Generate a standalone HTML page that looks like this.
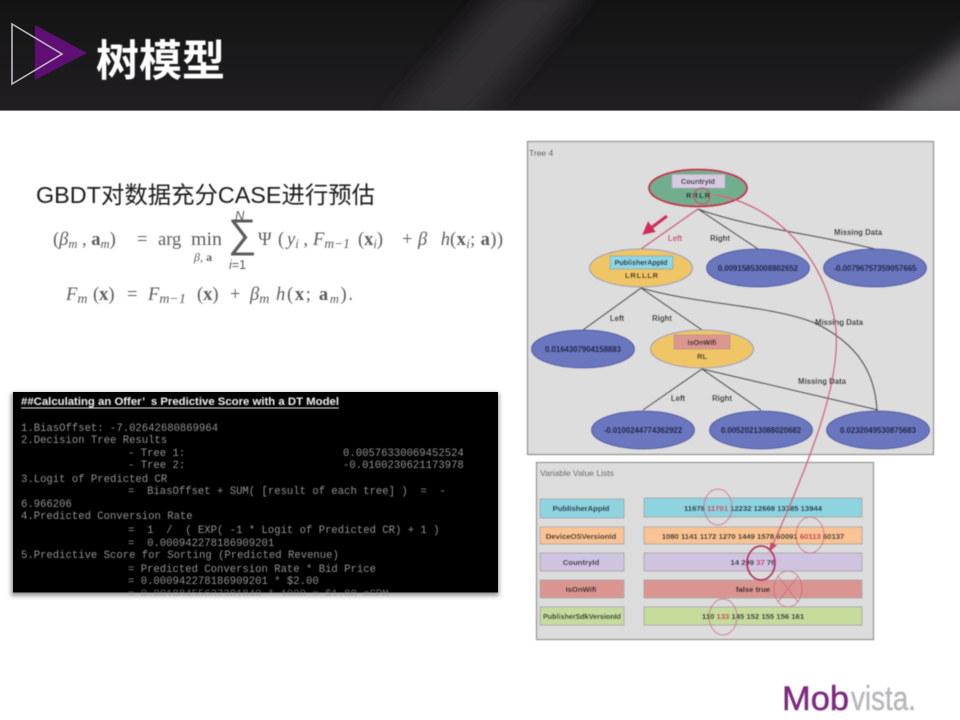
<!DOCTYPE html>
<html lang="zh">
<head>
<meta charset="utf-8">
<title>树模型</title>
<style>
html,body{margin:0;padding:0;background:#fff}
svg{display:block}
text{font-family:"Liberation Sans","Noto Sans CJK SC",sans-serif;white-space:pre}
.m{font-family:"Liberation Mono",monospace;font-size:10.6px;fill:#929292}
.f{font-family:"Liberation Serif",serif;font-size:18.5px;fill:#5c5c5c}
.i{font-style:italic}
.b{font-weight:bold}
.sb{font-size:12.5px}
.lab{font-size:7.8px;fill:#111;text-anchor:middle;font-weight:bold}
.leaf{fill:#6a76bd;stroke:#4b5aa5;stroke-width:1}
.leaft{font-size:7.8px;fill:#0c1030;text-anchor:middle;font-weight:bold}
.inner{font-size:7.2px;fill:#111;text-anchor:middle;font-weight:bold}
.code{font-size:7.4px;fill:#111;text-anchor:middle;font-weight:bold}
.lv{font-size:7.7px;fill:#0e1420;text-anchor:middle;font-weight:bold}
.edge{stroke:#505050;stroke-width:1.3;fill:none}
.pk{stroke:#d0607f;fill:none}
</style>
</head>
<body>
<svg width="960" height="720" viewBox="0 0 960 720" xmlns="http://www.w3.org/2000/svg">
<defs>
<linearGradient id="hd" x1="0" y1="0" x2="0" y2="1">
<stop offset="0" stop-color="#131314"/><stop offset="1" stop-color="#201e20"/>
</linearGradient>
<filter id="wide" filterUnits="userSpaceOnUse" x="300" y="-60" width="760" height="240"><feGaussianBlur stdDeviation="12"/></filter>
<filter id="s" x="-5%" y="-5%" width="110%" height="110%"><feGaussianBlur stdDeviation="0.6"/></filter>
<filter id="s2" x="-5%" y="-5%" width="110%" height="110%"><feGaussianBlur stdDeviation="0.4"/></filter>
<filter id="sh" x="-5%" y="-5%" width="110%" height="110%"><feGaussianBlur stdDeviation="2"/></filter>
<clipPath id="codeclip"><rect x="13" y="392" width="485" height="204"/></clipPath>
<clipPath id="hclip"><rect width="960" height="110"/></clipPath>
</defs>

<rect width="960" height="720" fill="#fff"/>

<!-- header -->
<rect width="960" height="110" fill="url(#hd)"/>
<g clip-path="url(#hclip)" filter="url(#wide)">
<polygon points="385,125 470,125 590,-15 505,-15" fill="#322f32"/>
<polygon points="868,125 985,125 985,30" fill="#605e63"/>
</g>
<rect y="110" width="960" height="1" fill="#777"/>
<polygon points="35,25 87,53 35,80" fill="#5f0f73"/>
<polygon points="12,24 62,54 12,84" fill="none" stroke="#c4b8c4" stroke-width="1.6"/>
<text x="96" y="76" font-size="43" font-weight="bold" fill="#fff" filter="url(#s2)">树模型</text>

<!-- heading and formulas -->
<g filter="url(#s2)">
<text x="36" y="203" font-size="23.5" fill="#1a1a1a" textLength="339" lengthAdjust="spacingAndGlyphs">GBDT对数据充分CASE进行预估</text>
</g>
<g filter="url(#s)">
<text class="f" x="53" y="245">(<tspan class="i">β</tspan><tspan class="i sb" dy="3">m</tspan><tspan dy="-3"> , </tspan><tspan class="b">a</tspan><tspan class="i sb" dy="3">m</tspan><tspan dy="-3">)</tspan></text>
<text class="f" x="137" y="245">=</text>
<text class="f" x="158" y="245">arg</text>
<text class="f" x="191" y="245" textLength="31" lengthAdjust="spacingAndGlyphs">min</text>
<text class="f sb" x="194" y="261" style="font-size:12px"><tspan class="i">β</tspan>, <tspan class="b">a</tspan></text>
<text x="235" y="220" font-family="Liberation Serif" font-style="italic" font-size="13" fill="#5c5c5c">N</text>
<text x="228" y="247" font-family="DejaVu Serif,serif" font-size="40" fill="#5c5c5c">∑</text>
<text x="229" y="269" font-family="Liberation Serif" font-size="12.5" fill="#5c5c5c"><tspan font-style="italic">i</tspan>=1</text>
<text class="f" x="258" y="245">Ψ</text>
<text class="f" x="278" y="245">(</text>
<text class="f" x="287" y="245"><tspan class="i">y</tspan><tspan class="i sb" dy="3">i</tspan><tspan dy="-3"> ,</tspan></text>
<text class="f" x="313" y="245"><tspan class="i">F</tspan><tspan class="i sb" dy="3" style="font-size:13.5px">m−1</tspan></text>
<text class="f" x="358" y="245">(<tspan class="b">x</tspan><tspan class="i sb" dy="3">i</tspan><tspan dy="-3">)</tspan></text>
<text class="f" x="402" y="245">+</text>
<text class="f i" x="418" y="245" textLength="32">βh</text>
<text class="f" x="450" y="245" textLength="53">(<tspan class="b">x</tspan><tspan class="i sb" dy="3">i</tspan><tspan dy="-3">; </tspan><tspan class="b">a</tspan>))</text>

<text class="f" x="66" y="300"><tspan class="i">F</tspan><tspan class="i sb" dy="3" style="font-size:14px">m</tspan></text>
<text class="f" x="93" y="300">(<tspan class="b">x</tspan>)</text>
<text class="f" x="127" y="300">=</text>
<text class="f" x="148" y="300"><tspan class="i">F</tspan><tspan class="i sb" dy="3" style="font-size:14px">m−1</tspan></text>
<text class="f" x="197" y="300">(<tspan class="b">x</tspan>)</text>
<text class="f" x="230" y="300">+</text>
<text class="f" x="250" y="300"><tspan class="i">β</tspan><tspan class="i sb" dy="3" style="font-size:14px">m</tspan></text>
<text class="f i" x="276" y="300">h</text>
<text class="f" x="287" y="300" textLength="66">(<tspan class="b">x</tspan>; <tspan class="b">a</tspan><tspan class="i sb" dy="3">m</tspan><tspan dy="-3">).</tspan></text>
</g>

<!-- code panel -->
<rect x="11" y="393" width="488" height="203" fill="#999" filter="url(#sh)"/>
<rect x="13" y="392" width="485" height="200.5" fill="#000"/>
<g clip-path="url(#codeclip)" filter="url(#s)">
<text x="21" y="405" font-size="11" font-weight="bold" fill="#f2f2f2" textLength="318" lengthAdjust="spacingAndGlyphs">##Calculating an Offer’  s Predictive Score with a DT Model</text>
<rect x="21" y="407.5" width="318" height="1" fill="#eee"/>
<text class="m" x="21" y="431">1.BiasOffset: -7.02642680869964</text>
<text class="m" x="21" y="443">2.Decision Tree Results</text>
<text class="m" x="128" y="456">- Tree 1:</text><text class="m" x="343" y="456">0.00576330069452524</text>
<text class="m" x="128" y="468">- Tree 2:</text><text class="m" x="343" y="468">-0.0100230621173978</text>
<text class="m" x="21" y="482">3.Logit of Predicted CR</text>
<text class="m" x="128" y="494">=  BiasOffset + SUM( [result of each tree] )  =  -</text>
<text class="m" x="21" y="507">6.966206</text>
<text class="m" x="21" y="519">4.Predicted Conversion Rate</text>
<text class="m" x="128" y="533">=  1  /  ( EXP( -1 * Logit of Predicted CR) + 1 )</text>
<text class="m" x="128" y="546">=  0.000942278186909201</text>
<text class="m" x="21" y="558">5.Predictive Score for Sorting (Predicted Revenue)</text>
<text class="m" x="128" y="572">= Predicted Conversion Rate * Bid Price</text>
<text class="m" x="128" y="584">= 0.000942278186909201 * $2.00</text>
<text class="m" x="128" y="597" opacity=".7">= 0.00188455637381840 * 1000 = $1.88 eCPM</text>
</g>

<!-- tree panel -->
<g filter="url(#s)">
<rect x="527.5" y="141.5" width="406" height="313" fill="#dddddd" stroke="#8e8e8e" stroke-width="1.2"/>
<text x="529" y="156" font-size="8.5" fill="#444">Tree 4</text>

<path class="pk" stroke-width="1.4" d="M698,209 L641,249"/>
<path class="edge" d="M698,209 L758,249"/>
<path class="edge" d="M698,209 C750,228 820,235 875,249"/>
<path class="edge" d="M641,288 L583,330"/>
<path class="edge" d="M641,288 L702,330"/>
<path class="edge" d="M641,288 C700,305 770,305 815,323 C860,345 875,375 877,410"/>
<path class="edge" d="M702,369 L643,410"/>
<path class="edge" d="M702,369 L761,410"/>
<path class="edge" d="M702,369 L878,410"/>

<ellipse cx="698" cy="188" rx="49" ry="18.5" fill="#6fae8e" stroke="#c4274f" stroke-width="2"/>
<rect x="672" y="174.5" width="53" height="13.5" fill="#d7cbe4" stroke="#aaa" stroke-width=".5"/>
<text class="inner" x="698" y="184">CountryId</text>
<text class="code" x="698" y="198" textLength="24">R R L R</text>
<circle cx="702" cy="196" r="8" fill="none" stroke="#c8476d" stroke-width="1.2"/>

<ellipse cx="641" cy="268" rx="51.5" ry="19" fill="#f0c565" stroke="#8f9bb5" stroke-width="1"/>
<rect x="610" y="256" width="63" height="13" fill="#8fd5e3" stroke="#6c9aa8" stroke-width=".6"/>
<text class="inner" x="641" y="265">PublisherAppId</text>
<text class="code" x="641.5" y="278" textLength="33">L R L L L R</text>

<ellipse class="leaf" cx="758" cy="268" rx="51.5" ry="19"/>
<text class="leaft" x="758" y="271">0.00915853008802652</text>
<ellipse class="leaf" cx="875" cy="268" rx="51.5" ry="19"/>
<text class="leaft" x="875" y="271">-0.00796757359057665</text>
<ellipse class="leaf" cx="583" cy="349" rx="51.5" ry="19"/>
<text class="leaft" x="583" y="352">0.0164307904158883</text>

<ellipse cx="702" cy="349" rx="51.5" ry="19" fill="#f0c565" stroke="#8f9bb5" stroke-width="1"/>
<rect x="674" y="335" width="56" height="14" fill="#db9690" stroke="#aa8a88" stroke-width=".6"/>
<text class="inner" x="702" y="345">IsOnWifi</text>
<text class="code" x="702" y="359" textLength="10">R L</text>

<ellipse class="leaf" cx="643" cy="430" rx="51.5" ry="19"/>
<text class="leaft" x="643" y="433">-0.0100244774362922</text>
<ellipse class="leaf" cx="761" cy="430" rx="51.5" ry="19"/>
<text class="leaft" x="761" y="433">0.00520213088020682</text>
<ellipse class="leaf" cx="878" cy="430" rx="51.5" ry="19"/>
<text class="leaft" x="878" y="433">0.0232049530875683</text>

<text class="lab" x="675" y="241" style="fill:#c8476d">Left</text>
<text class="lab" x="720" y="241">Right</text>
<text class="lab" x="858" y="235">Missing Data</text>
<text class="lab" x="617" y="321">Left</text>
<text class="lab" x="662" y="321">Right</text>
<text class="lab" x="839" y="325">Missing Data</text>
<text class="lab" x="678" y="401">Left</text>
<text class="lab" x="722" y="401">Right</text>
<text class="lab" x="822" y="384">Missing Data</text>

<!-- value panel -->
<rect x="536.5" y="462.5" width="337" height="177" fill="#dcdcdc" stroke="#909090" stroke-width="1.2"/>
<text x="540" y="476" font-size="8.5" fill="#555">Variable Value Lists</text>

<g stroke="#a8a8a8" stroke-width="1">
<rect x="540" y="499" width="84" height="19" fill="#8dd3e0"/>
<rect x="644" y="498" width="218" height="19" fill="#8dd3e0"/>
<rect x="540" y="527" width="84" height="17" fill="#f9c393"/>
<rect x="644" y="527" width="218" height="17" fill="#f9c393"/>
<rect x="540" y="553" width="84" height="18" fill="#cfc3e0"/>
<rect x="644" y="553" width="218" height="18" fill="#cfc3e0"/>
<rect x="540" y="580" width="84" height="18" fill="#da9590"/>
<rect x="644" y="580" width="218" height="18" fill="#da9590"/>
<rect x="540" y="607" width="84" height="18" fill="#c5dc9d"/>
<rect x="644" y="607" width="218" height="18" fill="#c5dc9d"/>
</g>
<text class="lv" x="581" y="511">PublisherAppId</text>
<text class="lv" x="581" y="539">DeviceOSVersionId</text>
<text class="lv" x="581" y="565">CountryId</text>
<text class="lv" x="581" y="592">IsOnWifi</text>
<text class="lv" x="582" y="619" textLength="78" lengthAdjust="spacingAndGlyphs">PublisherSdkVersionId</text>

<text class="lv" x="753" y="511">11678 <tspan fill="#c4274f">11701</tspan> 12232 12668 13385 13944</text>
<text class="lv" x="753" y="539">1080 1141 1172 1270 1449 1578 60091 <tspan fill="#c4274f">60113</tspan> 60137</text>
<text class="lv" x="753" y="565">14 299 <tspan fill="#c4274f">37</tspan> 76</text>
<text class="lv" x="753" y="592">false true</text>
<text class="lv" x="753" y="619">110 <tspan fill="#c4274f">133</tspan> 145 152 155 156 161</text>

<!-- annotations -->
<ellipse class="pk" cx="718" cy="507" rx="14" ry="18" stroke-width="1" opacity=".8"/>
<ellipse class="pk" cx="810" cy="535" rx="14" ry="18" stroke-width="1" opacity=".8"/>
<ellipse cx="761" cy="563" rx="14" ry="17" fill="none" stroke="#b72e63" stroke-width="2"/>
<ellipse class="pk" cx="788" cy="589" rx="14" ry="18" stroke-width="1" opacity=".8"/>
<path class="pk" stroke-width="1" opacity=".8" d="M778,576 L798,602 M798,576 L778,602"/>
<ellipse class="pk" cx="723" cy="617" rx="14" ry="18" stroke-width="1" opacity=".8"/>

<path class="pk" stroke-width="1.4" d="M716,195 C785,207 830,270 836,330 C840,380 815,450 773,544"/>
<polygon points="769,552 770.5,542 777,545.5" fill="#c8476d"/>
<path d="M667,216 L651,228" stroke="#d22a5a" stroke-width="3.5" fill="none"/>
<polygon points="642,235 656,232 648,221" fill="#d22a5a"/>
</g>

<!-- logo -->
<g filter="url(#s2)">
<text x="782" y="710" font-size="34" fill="#7f2a80" stroke="#7f2a80" stroke-width=".5" textLength="67" lengthAdjust="spacingAndGlyphs">Mob</text>
<text x="851" y="710" font-size="34" fill="#b6b7b9" stroke="#b6b7b9" stroke-width=".4" textLength="65" lengthAdjust="spacingAndGlyphs">vista.</text>
</g>
</svg>
</body>
</html>
